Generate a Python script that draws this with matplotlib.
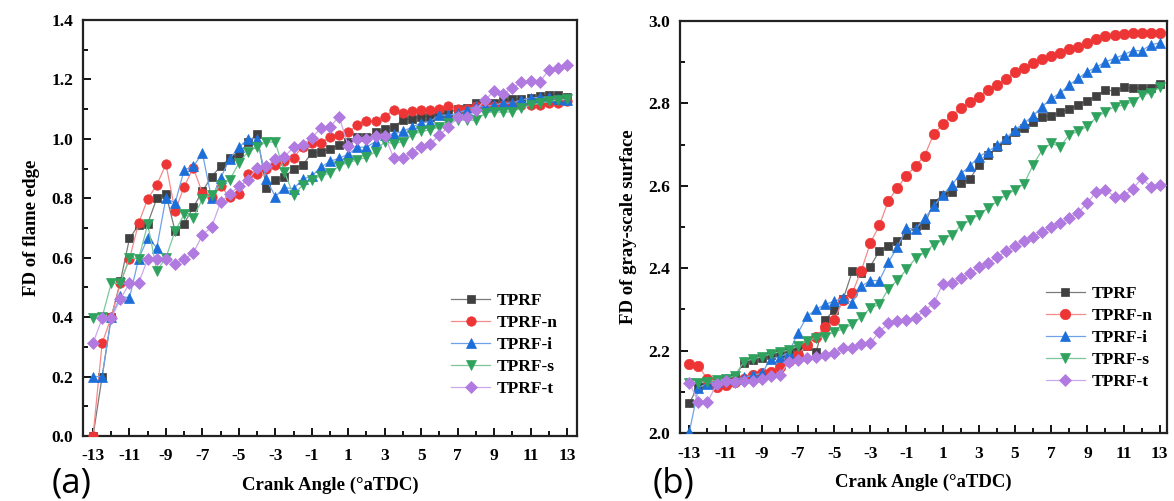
import numpy as np
import matplotlib
matplotlib.use("Agg")
import matplotlib.pyplot as plt
from matplotlib.ticker import MultipleLocator, FormatStrFormatter

# ---------------- data ----------------
crank = np.arange(-13, 13.01, 0.5)
series_names = ["TPRF", "TPRF-n", "TPRF-i", "TPRF-s", "TPRF-t"]

# panel (a): FD of flame edge
a_tprf = [0.0, 0.20, 0.40, 0.52, 0.665, 0.71, 0.715, 0.80, 0.815, 0.69, 0.715, 0.77, 0.823,
          0.873, 0.907, 0.935, 0.948, 0.988, 1.016, 0.836, 0.86, 0.871, 0.899, 0.912, 0.952,
          0.957, 0.965, 0.98, 0.99, 1.006, 1.006, 1.022, 1.032, 1.04, 1.064, 1.067, 1.075,
          1.075, 1.085, 1.087, 1.10, 1.105, 1.12, 1.12, 1.122, 1.126, 1.134, 1.134, 1.137,
          1.143, 1.148, 1.148, 1.14]
a_tprf_n = [0.0, 0.312, 0.40, 0.514, 0.596, 0.716, 0.798, 0.845, 0.915, 0.757, 0.839, 0.903, 0.817,
            0.806, 0.84, 0.806, 0.815, 0.881, 0.881, 0.90, 0.912, 0.927, 0.937, 0.974, 0.985,
            0.985, 1.007, 1.013, 1.022, 1.047, 1.06, 1.06, 1.075, 1.098, 1.086, 1.095, 1.098,
            1.098, 1.10, 1.111, 1.101, 1.10, 1.109, 1.111, 1.109, 1.114, 1.114, 1.114, 1.114,
            1.114, 1.12, 1.12, 1.126]
a_tprf_i = [0.2, 0.2, 0.40, 0.47, 0.465, 0.596, 0.666, 0.634, 0.802, 0.783, 0.896, 0.907, 0.952,
            0.80, 0.868, 0.933, 0.971, 1.0, 1.0, 0.865, 0.806, 0.836, 0.832, 0.864, 0.875,
            0.905, 0.924, 0.935, 0.948, 0.972, 0.972, 0.991, 1.013, 1.017, 1.025, 1.04, 1.053,
            1.058, 1.08, 1.079, 1.086, 1.098, 1.109, 1.109, 1.114, 1.12, 1.12, 1.131, 1.137,
            1.14, 1.14, 1.134, 1.131]
a_tprf_s = [0.396, 0.40, 0.514, 0.514, 0.60, 0.596, 0.713, 0.556, 0.60, 0.69, 0.746, 0.735, 0.797,
            0.811, 0.845, 0.862, 0.918, 0.957, 0.972, 0.991, 0.988, 0.888, 0.811, 0.845, 0.862,
            0.876, 0.884, 0.909, 0.92, 0.929, 0.938, 0.957, 0.991, 0.983, 0.991, 1.013, 1.025,
            1.03, 1.04, 1.055, 1.062, 1.064, 1.062, 1.086, 1.092, 1.089, 1.092, 1.103, 1.114,
            1.12, 1.126, 1.131, 1.134]
a_tprf_t = [0.312, 0.396, 0.396, 0.461, 0.514, 0.514, 0.596, 0.596, 0.596, 0.578, 0.596, 0.615, 0.677,
            0.703, 0.787, 0.814, 0.84, 0.862, 0.901, 0.907, 0.933, 0.94, 0.972, 0.98, 1.004,
            1.036, 1.04, 1.075, 0.976, 1.0, 1.0, 1.008, 1.011, 0.935, 0.935, 0.954, 0.974,
            0.983, 1.013, 1.04, 1.073, 1.073, 1.096, 1.131, 1.16, 1.152, 1.171, 1.19, 1.195,
            1.19, 1.232, 1.238, 1.249]

# panel (b): FD of gray-scale surface
b_tprf = [2.073, 2.115, 2.12, 2.125, 2.13, 2.135, 2.17, 2.178, 2.183, 2.19, 2.195, 2.20, 2.205,
          2.21, 2.197, 2.274, 2.299, 2.325, 2.392, 2.388, 2.404, 2.442, 2.455, 2.467, 2.481,
          2.503, 2.505, 2.559, 2.578, 2.586, 2.606, 2.616, 2.651, 2.675, 2.693, 2.711, 2.73,
          2.74, 2.756, 2.768, 2.77, 2.778, 2.786, 2.796, 2.807, 2.818, 2.833, 2.83, 2.839,
          2.837, 2.837, 2.838, 2.847]
b_tprf_n = [2.167, 2.163, 2.13, 2.112, 2.117, 2.125, 2.132, 2.14, 2.145, 2.149, 2.159, 2.175, 2.189,
            2.214, 2.234, 2.258, 2.274, 2.323, 2.34, 2.394, 2.461, 2.504, 2.564, 2.595, 2.625,
            2.648, 2.673, 2.725, 2.749, 2.77, 2.788, 2.804, 2.816, 2.833, 2.845, 2.859, 2.877,
            2.885, 2.897, 2.907, 2.914, 2.922, 2.932, 2.938, 2.946, 2.956, 2.964, 2.966, 2.968,
            2.972, 2.972, 2.97, 2.972]
b_tprf_i = [2.003, 2.11, 2.12, 2.125, 2.13, 2.13, 2.135, 2.14, 2.145, 2.18, 2.185, 2.195, 2.243,
            2.283, 2.30, 2.312, 2.32, 2.327, 2.316, 2.356, 2.37, 2.37, 2.415, 2.451, 2.497,
            2.495, 2.521, 2.55, 2.578, 2.602, 2.629, 2.648, 2.671, 2.683, 2.698, 2.715, 2.736,
            2.752, 2.77, 2.792, 2.812, 2.825, 2.845, 2.861, 2.877, 2.888, 2.901, 2.909, 2.918,
            2.928, 2.928, 2.942, 2.947]
b_tprf_s = [2.122, 2.122, 2.125, 2.129, 2.131, 2.139, 2.172, 2.18, 2.185, 2.192, 2.197, 2.201, 2.212,
            2.224, 2.231, 2.234, 2.246, 2.252, 2.264, 2.282, 2.303, 2.312, 2.35, 2.371, 2.397,
            2.424, 2.438, 2.457, 2.469, 2.481, 2.503, 2.516, 2.53, 2.546, 2.562, 2.578, 2.59,
            2.605, 2.651, 2.687, 2.703, 2.695, 2.724, 2.732, 2.745, 2.766, 2.78, 2.792, 2.796,
            2.804, 2.82, 2.825, 2.839]
b_tprf_t = [2.122, 2.075, 2.075, 2.118, 2.126, 2.125, 2.126, 2.127, 2.13, 2.138, 2.141, 2.173, 2.178,
            2.181, 2.185, 2.189, 2.193, 2.207, 2.207, 2.215, 2.218, 2.246, 2.266, 2.272, 2.274,
            2.28, 2.297, 2.315, 2.361, 2.364, 2.376, 2.388, 2.403, 2.413, 2.427, 2.441, 2.455,
            2.467, 2.475, 2.489, 2.50, 2.509, 2.521, 2.535, 2.559, 2.586, 2.59, 2.574, 2.576,
            2.592, 2.618, 2.598, 2.602]

x_ticks = list(range(-13, 14, 2))

# ---------------- style ----------------
marker_colors = ["#404040", "#ee3535", "#1c6fd9", "#2fa35e", "#b07ae0"]
line_colors = ["#7a7a7a", "#f58a8a", "#6fa2e8", "#7cc79a", "#cba8ec"]
markers = ["s", "o", "^", "v", "D"]

plt.rcParams['font.family'] = ['Liberation Serif', 'DejaVu Serif']
plt.rcParams['font.weight'] = 'bold'
plt.rcParams['axes.labelweight'] = 'bold'

fig = plt.figure(figsize=(11.74, 5.01), dpi=100)
axA = fig.add_axes([83/1174, 1 - 436/501, 494/1174, 416/501])
axB = fig.add_axes([680/1174, 1 - 433/501, 487/1174, 412/501])

def draw(ax, data, sizes, ylim, ylabel, xlim, legend_anchor):
    for i, (name, ys) in enumerate(zip(series_names, data)):
        ax.plot(crank, ys, color=line_colors[i], lw=0.9,
                marker=markers[i], ms=sizes[i],
                markerfacecolor=marker_colors[i], markeredgecolor=marker_colors[i],
                markeredgewidth=0.5, label=name, zorder=3 + i * 0.1)
    ax.set_xlim(*xlim)
    ax.set_ylim(*ylim)
    ax.set_xticks(x_ticks)
    ax.set_xticklabels([str(t) for t in x_ticks])
    ax.xaxis.set_minor_locator(MultipleLocator(1))
    ax.yaxis.set_major_locator(MultipleLocator(0.2))
    ax.yaxis.set_minor_locator(MultipleLocator(0.1))
    ax.yaxis.set_major_formatter(FormatStrFormatter('%.1f'))
    ax.tick_params(which='both', direction='in', top=False, right=False, width=1.3)
    ax.tick_params(which='major', length=6, labelsize=12.5)
    ax.tick_params(axis='x', which='major', pad=9)
    ax.tick_params(axis='y', which='major', pad=7)
    ax.tick_params(which='minor', length=3.5)
    for lbl in ax.get_xticklabels() + ax.get_yticklabels():
        lbl.set_fontweight('bold')
    for sp in ax.spines.values():
        sp.set_linewidth(1.6)
        sp.set_color('#222222')
    ax.set_xlabel("Crank Angle (\u00b0aTDC)", fontsize=13.5, fontweight='bold', labelpad=9)
    ax.set_ylabel(ylabel, fontsize=13.5, fontweight='bold', labelpad=8)
    ax.legend(loc='lower right', bbox_to_anchor=legend_anchor, frameon=False,
              prop={'family': 'Liberation Serif', 'weight': 'bold', 'size': 12.5},
              handlelength=2.3, labelspacing=0.33, handletextpad=0.35, borderaxespad=0.3)

draw(axA, [a_tprf, a_tprf_n, a_tprf_i, a_tprf_s, a_tprf_t],
     [6.3, 6.8, 6.8, 6.8, 6.3], (0.0, 1.4), "FD of flame edge", (-13.55, 13.55), (0.985, 0.065))
draw(axB, [b_tprf, b_tprf_n, b_tprf_i, b_tprf_s, b_tprf_t],
     [6.0, 7.5, 7.0, 7.0, 6.5], (2.0, 3.0), "FD of gray-scale surface", (-13.52, 13.4), (0.995, 0.075))

fig.text(52/1174, 1 - 492/501, "(a)", fontsize=25, family='Open Sans', fontweight='normal',
         ha='left', va='baseline')
fig.text(653/1174, 1 - 492/501, "(b)", fontsize=25, family='Open Sans', fontweight='normal',
         ha='left', va='baseline')

fig.savefig("out.png", dpi=100)
